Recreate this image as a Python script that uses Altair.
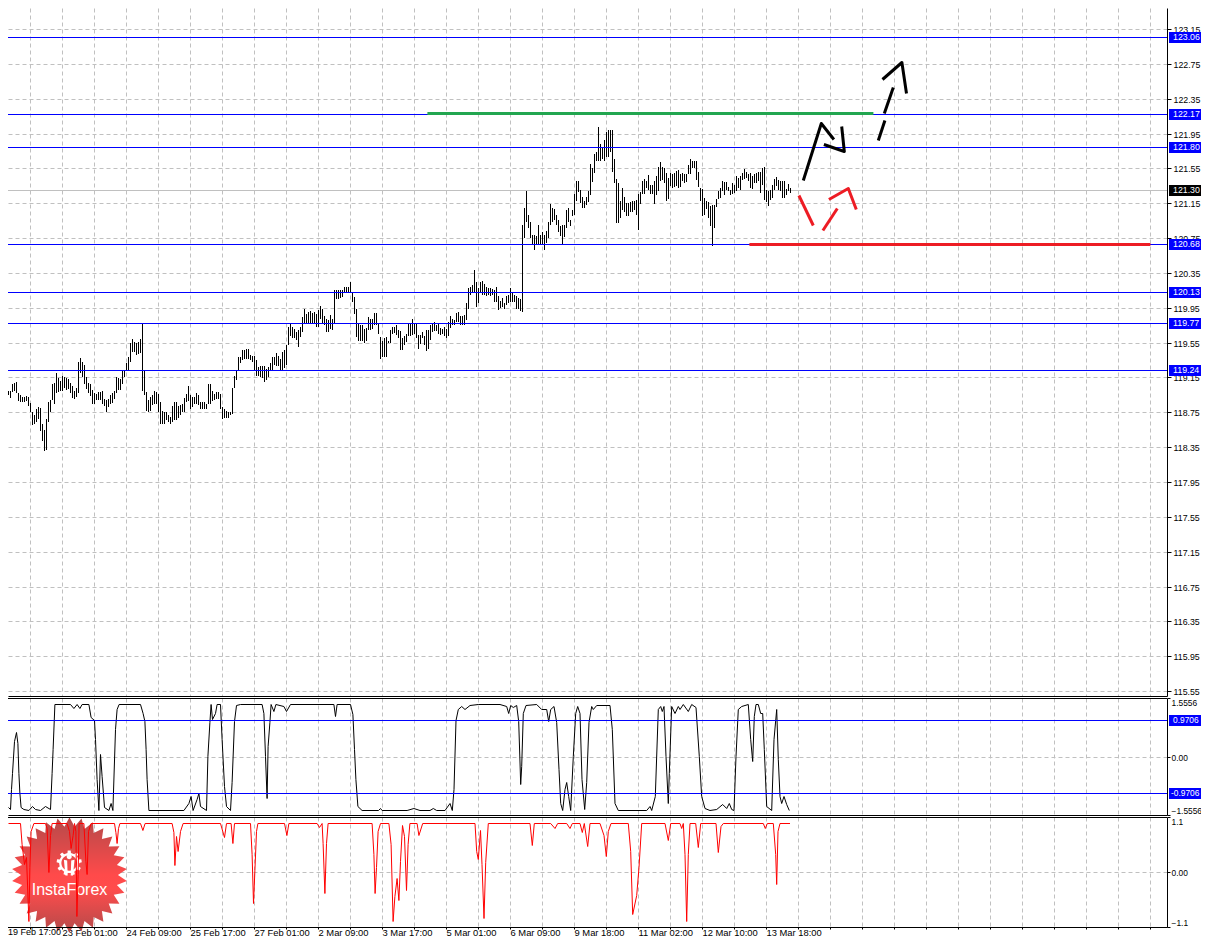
import json, math
import altair as alt
import pandas as pd

HIGH = [
119.02,118.94,118.97,119.01,119.00,118.99,119.08,119.09,119.10,118.97,
118.95,118.93,118.93,118.94,118.93,118.86,118.75,118.72,118.79,118.81,
118.80,118.61,118.55,118.67,118.87,118.89,119.07,119.09,119.20,119.14,
119.11,119.17,119.16,119.14,119.13,119.09,119.05,119.00,119.03,119.33,
119.37,119.33,119.29,119.15,119.09,119.07,119.01,118.97,118.96,118.98,
118.98,119.00,118.90,118.89,118.90,118.95,118.97,119.00,119.15,119.14,
119.13,119.24,119.24,119.31,119.38,119.55,119.59,119.56,119.55,119.56,
119.59,119.78,119.24,118.98,118.89,118.93,118.95,118.99,118.98,118.96,
118.87,118.77,118.75,118.75,118.72,118.70,118.82,118.87,118.87,118.82,
118.83,118.85,118.91,118.96,119.05,118.95,118.93,118.93,118.97,118.95,
118.87,118.87,118.87,118.84,119.07,119.07,119.00,118.96,118.98,118.98,
118.96,118.81,118.79,118.77,118.75,118.75,119.03,119.17,119.23,119.38,
119.38,119.47,119.46,119.48,119.48,119.41,119.40,119.40,119.35,119.27,
119.28,119.28,119.28,119.25,119.27,119.31,119.38,119.38,119.43,119.40,
119.36,119.44,119.46,119.52,119.73,119.77,119.73,119.71,119.67,119.69,
119.73,119.84,119.94,119.88,119.90,119.91,119.89,119.90,119.88,119.92,
119.97,119.94,119.86,119.82,119.81,119.87,119.82,120.15,120.15,120.15,
120.15,120.15,120.19,120.19,120.19,120.25,120.13,120.07,119.94,119.77,
119.75,119.75,119.71,119.72,119.84,119.82,119.82,119.89,119.89,119.78,
119.61,119.57,119.60,119.61,119.57,119.69,119.73,119.73,119.75,119.69,
119.68,119.60,119.62,119.65,119.77,119.77,119.82,119.77,119.77,119.64,
119.64,119.67,119.62,119.69,119.69,119.75,119.77,119.79,119.75,119.76,
119.72,119.71,119.73,119.71,119.79,119.85,119.82,119.81,119.89,119.90,
119.85,119.85,119.87,120.00,120.18,120.19,120.21,120.38,120.24,120.18,
120.24,120.26,120.22,120.19,120.18,120.18,120.17,120.15,120.19,120.09,
120.03,120.06,120.01,120.09,120.10,120.18,120.13,120.10,120.09,120.06,
120.05,120.90,121.09,121.29,121.02,120.94,120.79,120.79,120.77,120.90,
120.79,120.82,120.79,120.83,120.94,121.14,121.09,121.08,121.02,120.96,
120.89,120.90,120.90,121.07,121.09,120.96,121.07,121.26,121.40,121.40,
121.30,121.22,121.17,121.22,121.29,121.60,121.55,121.72,121.74,122.02,
121.83,121.80,121.87,121.97,121.99,121.99,121.99,121.66,121.43,121.38,
121.17,121.32,121.22,121.15,121.15,121.16,121.17,121.17,121.19,121.26,
121.28,121.40,121.43,121.40,121.47,121.36,121.36,121.40,121.46,121.56,
121.62,121.57,121.55,121.50,121.44,121.50,121.49,121.50,121.52,121.53,
121.49,121.50,121.49,121.49,121.59,121.66,121.63,121.63,121.64,121.51,
121.33,121.31,121.21,121.17,121.16,121.12,121.13,121.13,121.20,121.29,
121.32,121.41,121.39,121.39,121.34,121.30,121.38,121.36,121.46,121.44,
121.46,121.50,121.54,121.51,121.49,121.50,121.46,121.49,121.50,121.51,
121.51,121.55,121.56,121.30,121.29,121.30,121.36,121.43,121.45,121.42,
121.40,121.41,121.40,121.31,121.37,121.33]
LOW = [
118.81,118.83,118.86,118.91,118.95,118.91,118.98,118.99,118.97,118.88,
118.87,118.87,118.87,118.88,118.82,118.75,118.60,118.61,118.64,118.67,
118.53,118.42,118.31,118.32,118.64,118.75,118.89,118.85,118.97,118.98,
119.00,119.00,119.03,119.01,119.02,118.97,118.91,118.90,118.93,118.97,
119.20,119.15,119.08,119.02,118.97,118.94,118.85,118.85,118.89,118.89,
118.89,118.85,118.82,118.75,118.81,118.84,118.86,118.90,118.97,119.01,
119.01,119.08,119.15,119.24,119.23,119.33,119.44,119.44,119.41,119.42,
119.43,119.00,118.95,118.77,118.75,118.77,118.83,118.85,118.84,118.75,
118.62,118.61,118.61,118.66,118.64,118.61,118.64,118.66,118.66,118.69,
118.72,118.75,118.75,118.87,118.88,118.79,118.81,118.84,118.85,118.83,
118.79,118.79,118.79,118.79,118.84,118.85,118.88,118.89,118.90,118.90,
118.79,118.67,118.69,118.68,118.69,118.72,118.73,119.03,119.12,119.23,
119.31,119.35,119.36,119.36,119.36,119.35,119.33,119.23,119.17,119.17,
119.15,119.14,119.10,119.12,119.15,119.22,119.23,119.29,119.28,119.28,
119.24,119.23,119.26,119.29,119.52,119.63,119.60,119.60,119.58,119.50,
119.61,119.67,119.76,119.76,119.78,119.78,119.76,119.77,119.73,119.73,
119.82,119.78,119.75,119.67,119.67,119.71,119.70,119.78,120.05,120.05,
120.06,120.07,120.13,120.13,120.13,120.12,120.02,119.88,119.61,119.57,
119.57,119.57,119.54,119.57,119.69,119.69,119.71,119.75,119.75,119.65,
119.36,119.38,119.38,119.38,119.54,119.55,119.65,119.66,119.64,119.60,
119.47,119.47,119.52,119.56,119.62,119.62,119.64,119.65,119.60,119.48,
119.53,119.60,119.52,119.45,119.48,119.58,119.67,119.68,119.68,119.65,
119.64,119.65,119.63,119.60,119.62,119.72,119.75,119.75,119.79,119.79,
119.75,119.75,119.75,119.81,119.93,120.10,120.13,120.13,119.96,120.00,
120.12,120.10,120.10,120.08,120.10,120.08,120.10,120.02,120.02,119.92,
119.95,119.96,119.93,119.98,120.00,120.02,120.02,120.02,119.94,119.93,
119.91,119.90,120.75,120.94,120.86,120.75,120.67,120.61,120.68,120.68,
120.68,120.68,120.61,120.69,120.75,120.90,120.94,120.96,120.90,120.82,
120.77,120.67,120.76,120.86,120.94,120.89,121.00,121.01,121.17,121.28,
121.15,121.10,121.10,121.13,121.16,121.25,121.39,121.50,121.63,121.63,
121.64,121.66,121.64,121.68,121.68,121.74,121.51,121.38,120.92,120.92,
120.98,121.07,121.05,121.00,121.00,121.05,121.05,121.07,121.01,120.84,
121.14,121.26,121.26,121.32,121.30,121.26,121.26,121.14,121.24,121.29,
121.40,121.42,121.38,121.18,121.20,121.35,121.33,121.34,121.35,121.32,
121.34,121.40,121.38,121.39,121.48,121.48,121.55,121.55,121.42,121.34,
121.17,121.00,121.01,121.08,120.98,120.89,120.66,120.87,121.11,121.20,
121.21,121.29,121.25,121.30,121.29,121.25,121.26,121.27,121.29,121.32,
121.30,121.42,121.43,121.44,121.40,121.32,121.31,121.38,121.38,121.40,
121.27,121.36,121.19,121.16,121.12,121.19,121.21,121.30,121.35,121.30,
121.29,121.21,121.21,121.25,121.29,121.27]

OSC_I = [4,5,5.5,6,7,8,8.7,9.2,9.7,10.3,11.7,14.2,16,17.5,20,22.5,25,25.8,26.3,27.2,35,36.7,38.3,39.7,40.8,44.2,45.3,47,47.5,48.3,49.2,50,50.8,52,54.2,55.3,56.2,57.5,58.3,59.3,70,71.3,72.2,72.8,73.3,74.2,91.7,94.2,95.3,96.3,98.3,99.2,100,103,103.7,104.7,105.3,106,107.5,108.3,110,110.8,112,113,115,115.8,117,118,120,130.8,131.7,132.5,133.3,133.8,134.7,135.3,136.7,137.7,141.7,143,145,166.7,167.5,168.3,175,176.2,177,177.7,178.7,180.8,189,190,190.8,203.3,206.7,209.75,214.75,216.4,218.1,222.25,224.75,225.9,226.75,227.75,228.9,230.6,232.25,234.75,238.9,249.75,253.1,254.1,255.1,256.4,258.1,259.1,260.1,260.6,261.4,262.75,268.1,270.6,273.1,274.1,275.1,276.75,278.1,279.25,280.1,281.1,282.25,283.1,284.1,285.1,286.4,287.6,288.6,289.75,290.75,292.1,293.1,294.25,295.6,296.4,298.1,304.75,305.9,307.25,308.9,323.1,324.75,325.6,327.4,328.9,330.1,330.9,331.75,332.75,333.9,334.4,335.6,337.25,338.9,339.75,341.4,343.9,345.6,347.75,349.4,350.6,352.25,354.75,358.1,361.1,363.1,364.4,365.6,366.75,367.75,368.9,370.6,373.9,375.1,376.1,376.9,377.75,378.9,380.1,381.1,381.9,383.1,385.6,386.75,388.1,388.9,389.75,390.6,391.75,393.1,394.4]
OSC_V = [-1.33,-1.39,-.87,-.43,.41,.64,.37,-.43,-.96,-1.34,-1.39,-1.41,-1.32,-1.39,-1.41,-1.32,-1.39,-.43,.20,1.39,1.39,1.28,1.40,1.30,1.39,1.39,1.04,.98,.46,-.61,-1.41,.06,-.52,-1.34,-1.41,-1.23,-1.41,.73,1.26,1.39,1.39,1.17,.95,.20,-.61,-1.41,-1.41,-1.23,-1.05,-1.41,-1.14,-.96,-1.32,-1.41,.02,.91,1.40,1.00,1.17,1.40,1.40,.46,-.78,-1.32,-1.41,-.69,.95,1.36,1.40,1.39,1.17,.02,-1.10,.29,.91,1.39,1.22,1.39,1.35,1.22,1.39,1.39,1.09,1.39,1.39,1.13,.20,-.61,-1.32,-1.41,-1.41,-1.36,-1.41,-1.41,-1.36,-1.41,-1.41,-1.36,-1.41,-1.41,-1.23,-1.41,-.87,.98,1.26,1.35,1.25,1.38,1.40,1.40,1.35,1.17,1.37,1.31,1.38,.95,-.74,-.25,1.17,1.38,1.39,1.26,1.26,.95,1.26,1.33,.91,-.34,-1.23,-1.41,-.87,-.69,-1.05,-1.41,.02,1.17,1.35,1.17,-.61,-1.39,-.69,.91,1.35,1.26,1.38,1.38,.73,-1.23,-1.41,-1.41,-1.32,-1.41,-1.05,1.26,1.35,1.22,1.35,.02,-1.23,-.43,1.35,1.17,1.35,1.26,1.40,1.22,1.39,1.31,.02,-1.05,-1.36,-1.42,-1.39,-1.27,-1.36,-1.23,-1.39,-1.41,.02,1.26,1.35,1.39,.46,-.12,1.09,1.39,1.39,1.17,1.17,.20,-1.32,-1.41,.46,1.26,-.07,-1.05,-1.23,-1.05,-1.27,-1.41]

SIG_I = [4,10,10.8,12,13,14.2,14.7,15.3,16.7,22.5,23.3,24.2,25,25.8,33.3,34.5,35.3,36.3,37,37.7,38.2,38.8,39.3,41.7,42.7,43.3,44,45.3,57,57.7,58.3,59,59.7,70,71.2,72.3,85.8,86.7,87.2,88,88.8,90,91.3,110,112,113,115.3,116.2,117,125,125.8,126.5,127.2,128,128.7,142,143.2,144.2,158.3,159.5,160.8,161.3,162.2,163,163.8,185.8,186.7,187.3,188,188.8,190,194.2,195.3,196.3,197.2,198.3,199.2,200,201,202,203,203.8,204.7,208.3,209.2,211.1,237.25,238.1,238.9,240,240.75,241.75,242.6,243.9,264.75,265.9,266.9,275.1,277.25,278.6,283.1,284.75,285.9,289.75,290.9,291.9,293.6,294.75,299.75,301.75,302.9,303.9,305.25,313.9,315.1,316.1,318.1,319.25,320.6,332.25,333.9,335.1,339.75,340.6,341.4,342.25,343.1,343.9,344.75,347.6,348.9,350.1,357.75,358.9,360.25,361.4,381.4,382.4,383.4,386.4,387.6,388.1,388.75,389.75,394.75]
SIG_V = [.97,.97,.56,.17,.30,-.98,.10,.82,.97,.97,.88,.01,.75,.97,.97,.82,.49,.75,.97,.82,-.87,-.03,.97,.97,.23,-.03,.82,.97,.97,.79,.59,.88,.97,.97,.85,.97,.97,.79,.15,.72,.43,.82,.97,.97,.70,.97,.97,.59,.97,.97,.36,-.62,.04,.82,.97,.97,.75,.97,.97,.90,.97,.59,-.42,.59,.97,.97,.36,-.42,.10,.82,.97,.97,.56,-.98,-.48,-.12,-.55,.23,.95,.72,-.35,.56,.97,.97,.75,.97,.97,.43,.27,.85,.17,-.92,.20,.97,.97,.54,.97,.97,.87,.97,.97,.88,.97,.97,.79,.97,.53,.97,.97,.75,.33,.82,.97,.97,.43,-.84,-.45,.10,.97,.97,.64,.97,.97,.88,.97,.36,-.97,.36,.97,.97,.50,.97,.97,.40,.92,.97,.97,.88,.97,.97,.36,-.24,.82,.97,.97]

PRICE_TICKS = [115.55,115.95,116.35,116.75,117.15,117.55,117.95,118.35,118.75,119.15,119.55,119.95,120.35,120.75,121.15,121.55,121.95,122.35,122.75,123.15]
LEVELS = [123.06,122.17,121.80,120.68,120.13,119.77,119.24]
BID = [121.30]
OSC_LEVELS = [0.9706,-0.9706]
OSC_TICKS = [-1.5556,0,1.5556]
SIG_TICKS = [-1.1,0,1.1]
GRID_I = [15+16*k for k in range(36)]
TIME_LABELS = {"31":"23 Feb 01:00","63":"24 Feb 09:00","95":"25 Feb 17:00","127":"27 Feb 01:00",
               "159":"2 Mar 09:00","191":"3 Mar 17:00","223":"5 Mar 01:00","255":"6 Mar 09:00","287":"9 Mar 18:00",
               "319":"11 Mar 02:00","351":"12 Mar 10:00","383":"13 Mar 18:00"}
FIRST_LABEL = "19 Feb 17:00"
BLACK_SEG = [1,1,1,2,2,2,3,3,4,4,5,5,5]
BLACK_I = [401.4,410.4,416.7,411.7,421.9,420.6,438.9,442.2,441.9,446.4,441,450.7,453]
BLACK_P = [121.42,122.07,121.89,121.83,121.75,122.04,121.88,122.11,122.19,122.48,122.58,122.77,122.41]
RED_SEG = [1,1,2,2,3,3,3]
RED_I = [399.2,406.4,411.2,418.4,414.2,423.9,427.9]
RED_P = [121.24,120.90,120.84,121.10,121.20,121.33,121.08]

FONT = "Liberation Sans"
FS = 9.4
FS_Y = 8.8
FS_OSC = 8.4
GRIDC = "#c0c0c0"
DASH = [4, 3]
BLUE = "#0000ff"
OFF = dict(xOffset=.5, yOffset=.5)

xs = alt.Scale(domain=[4, 583.5], nice=False, zero=False)
ys = alt.Scale(domain=[115.493, 123.391], nice=False, zero=False, round=True)
y2s = alt.Scale(domain=[-1.5556, 1.5556], nice=False, zero=False, round=True)
y3s = alt.Scale(domain=[-1.1, 1.1], nice=False, zero=False, round=True)

def xaxis(values=GRID_I, labels=False):
    kw = dict(values=values, grid=True, gridColor=GRIDC, gridDash=DASH, gridWidth=1, domain=True,
              domainColor="black", title=None, ticks=labels, labels=labels)
    if labels:
        kw.update(labelExpr="(%s)[''+datum.value]||''" % json.dumps(TIME_LABELS), labelAlign="left", labelBaseline="top",
                  labelFont=FONT, labelFontSize=FS, labelColor="black", labelPadding=-1, tickSize=2, tickColor="black",
                  labelOverlap=False, labelBound=False, labelFlush=False)
    return alt.Axis(**kw)

def yaxis(values, expr=None, flush=False, fs=FS_Y, tick=4, pad=2):
    kw = dict(values=values, orient="right", grid=True, gridColor=GRIDC, gridDash=DASH, gridWidth=1, domain=True,
              domainColor="black", tickColor="black", tickSize=tick, labelFont=FONT, labelFontSize=fs, labelColor="black",
              labelPadding=pad, title=None, labelOverlap=False, labelFlush=flush)
    if expr:
        kw["labelExpr"] = expr
    else:
        kw["format"] = ".2f"
    return alt.Axis(**kw)

def panel_encoders(scale, yax, xax):
    def Y(field="v"):
        return alt.Y(field + ":Q", scale=scale, axis=yax)
    def X(field="i"):
        return alt.X(field + ":Q", scale=xs, axis=xax)
    return X, Y

def tags(df, Y, tx=1165, fs=FS_Y):
    rect = alt.Chart(df).mark_rect(height=11, yOffset=.5).encode(
        x=alt.value(1161), x2=alt.value(1193), y=Y(), color=alt.Color("bg:N", scale=None))
    text = alt.Chart(df).mark_text(align="left", baseline="middle", font=FONT, fontSize=fs, color="white").encode(
        x=alt.value(tx), y=Y(), text="t:N")
    return [rect, text]

# ---------- main price panel
X1, Y1 = panel_encoders(ys, yaxis(PRICE_TICKS), xaxis())
bars = pd.DataFrame({"i": range(len(HIGH)), "v": HIGH, "lo": LOW})
bars = bars[bars.i >= 4]
main = [
    alt.Chart(pd.DataFrame({"v": BID})).mark_rule(color=GRIDC, strokeWidth=1, yOffset=.5).encode(y=Y1()),
    alt.Chart(bars).mark_rule(color="black", strokeWidth=1, xOffset=.5).encode(x=X1(), y=Y1(), y2="lo:Q"),
    alt.Chart(pd.DataFrame({"v": LEVELS})).mark_rule(color=BLUE, strokeWidth=1, yOffset=.5).encode(y=Y1()),
    alt.Chart(pd.DataFrame({"i": [213.7], "x1": [436.7], "v": [122.19]})).mark_rule(color="#22a650", strokeWidth=3, yOffset=.5).encode(
        x=X1(), x2="x1:Q", y=Y1()),
    alt.Chart(pd.DataFrame({"i": [374.7], "x1": [575.2], "v": [120.68]})).mark_rule(color="#ed1c24", strokeWidth=3, yOffset=.5).encode(
        x=X1(), x2="x1:Q", y=Y1()),
]
bl = pd.DataFrame({"seg": BLACK_SEG, "i": BLACK_I, "v": BLACK_P, "n": range(len(BLACK_I))})
rd = pd.DataFrame({"seg": RED_SEG, "i": RED_I, "v": RED_P, "n": range(len(RED_I))})
for df, col in ((bl, "black"), (rd, "#ed1c24")):
    main.append(alt.Chart(df).mark_line(color=col, strokeWidth=3, strokeJoin="round", **OFF).encode(
        x=X1(), y=Y1(), detail="seg:N", order="n:Q"))
tag_df = pd.DataFrame({"v": LEVELS + BID, "bg": [BLUE] * len(LEVELS) + ["black"],
                       "t": ["%.2f" % v for v in LEVELS + BID]})
main += tags(tag_df, Y1)
panel1 = alt.layer(*main).properties(width=1159, height=688)

# ---------- oscillator panel
osc_expr = "datum.value==0?'0.00':format(datum.value,'.4f')"
X2, Y2 = panel_encoders(y2s, yaxis(OSC_TICKS, osc_expr, True, FS_OSC, 3, 1), xaxis())
osc = pd.DataFrame({"i": OSC_I, "v": OSC_V})
osc_l = pd.DataFrame({"v": OSC_LEVELS, "bg": [BLUE, BLUE], "t": ["%.4f" % v for v in OSC_LEVELS]})
panel2 = alt.layer(
    alt.Chart(osc).mark_line(color="black", strokeWidth=1, **OFF).encode(x=X2(), y=Y2()),
    alt.Chart(osc_l).mark_rule(color=BLUE, strokeWidth=1, yOffset=.5).encode(y=Y2()),
    alt.Chart(pd.DataFrame({"v": [1.5556]})).mark_rule(color="black", strokeWidth=1, yOffset=.5).encode(y=Y2()),
    *tags(osc_l.iloc[:1], Y2, 1165, FS_OSC),
    *tags(osc_l.iloc[1:], Y2, 1163, FS_OSC),
).properties(width=1159, height=117)

# ---------- signal panel with badge
def poly(pts):
    return "M" + "L".join("%.3f,%.3f" % p for p in pts) + "Z"
def circle(r, cx=0.0, cy=0.0, n=24, rev=False):
    a = [2 * math.pi * k / n for k in range(n)]
    if rev:
        a = a[::-1]
    return [(cx + r * math.cos(t), cy + r * math.sin(t)) for t in a]
def star(n=30, inner=0.84):
    return poly([((1 if k % 2 == 0 else inner) * math.sin(math.pi * k / n),
                  -(1 if k % 2 == 0 else inner) * math.cos(math.pi * k / n)) for k in range(2 * n)])
def gear(teeth=9):
    pts = []
    for k in range(teeth):
        b = 2 * math.pi * k / teeth
        w = 2 * math.pi / teeth
        for f, r in ((-.25, .8), (-.17, 1), (.17, 1), (.25, .8)):
            pts.append((r * math.sin(b + f * w), -r * math.cos(b + f * w)))
    return poly(pts) + poly(circle(.62, rev=True))
FIGURE = poly(circle(.2, 0, -.5)) + poly([(-.42, -.26), (-.16, -.2), (-.12, .98), (-.3, .98)]) + poly([(.42, -.26), (.16, -.2), (.12, .98), (.3, .98)])

X3, Y3 = panel_encoders(y3s, yaxis(SIG_TICKS, "datum.value==0?'0.00':format(datum.value,'.1f')", True, FS_OSC, 3, 1), xaxis(GRID_I, True))
grad = alt.Gradient(gradient="linear", x1=0, x2=0, y1=0, y2=1, stops=[
    alt.GradientStop(offset=0, color="#b44a4a"), alt.GradientStop(offset=.5, color="#ff4a4a"),
    alt.GradientStop(offset=.62, color="#ff4c4c"), alt.GradientStop(offset=1, color="#b44a4a")])
sig = pd.DataFrame({"i": SIG_I, "v": SIG_V})
badge = pd.DataFrame({"i": [34.75], "v": [-0.05]})
mark = pd.DataFrame({"i": [34.6], "v": [0.18]})
word = pd.DataFrame({"i": [34.75], "v": [-0.36], "t": ["InstaForex"]})
first = pd.DataFrame({"i": [4.0], "v": [-1.1], "t": [FIRST_LABEL]})
panel3 = alt.layer(
    alt.Chart(badge).mark_point(shape=star(), size=13300, filled=True, fill=grad, opacity=1, strokeWidth=0).encode(x=X3(), y=Y3()),
    alt.Chart(mark).mark_point(shape=gear(), size=640, filled=True, fill="white", opacity=1, strokeWidth=0).encode(x=X3(), y=Y3()),
    alt.Chart(mark).mark_point(shape=FIGURE, size=640, filled=True, fill="white", opacity=1, strokeWidth=0).encode(x=X3(), y=Y3()),
    alt.Chart(word).mark_text(font=FONT, fontSize=16, color="white").encode(x=X3(), y=Y3(), text="t:N"),
    alt.Chart(sig).mark_line(color="#ff0000", strokeWidth=1, **OFF).encode(x=X3(), y=Y3()),
    alt.Chart(pd.DataFrame({"v": [1.1, -1.1]})).mark_rule(color="black", strokeWidth=1, yOffset=.5).encode(y=Y3()),
    alt.Chart(first).mark_text(font=FONT, fontSize=9, color="black", align="left", baseline="top", dy=1).encode(x=X3(), y=Y3(), text="t:N"),
).properties(width=1159, height=110)

chart = alt.vconcat(panel1, panel2, panel3, spacing=2, bounds="flush").properties(
    padding={"left": -2, "top": 0, "right": -1, "bottom": 0}, background="white"
).configure_view(strokeWidth=0)

chart.save("out.html", embed_options={"renderer": "svg", "actions": False})
